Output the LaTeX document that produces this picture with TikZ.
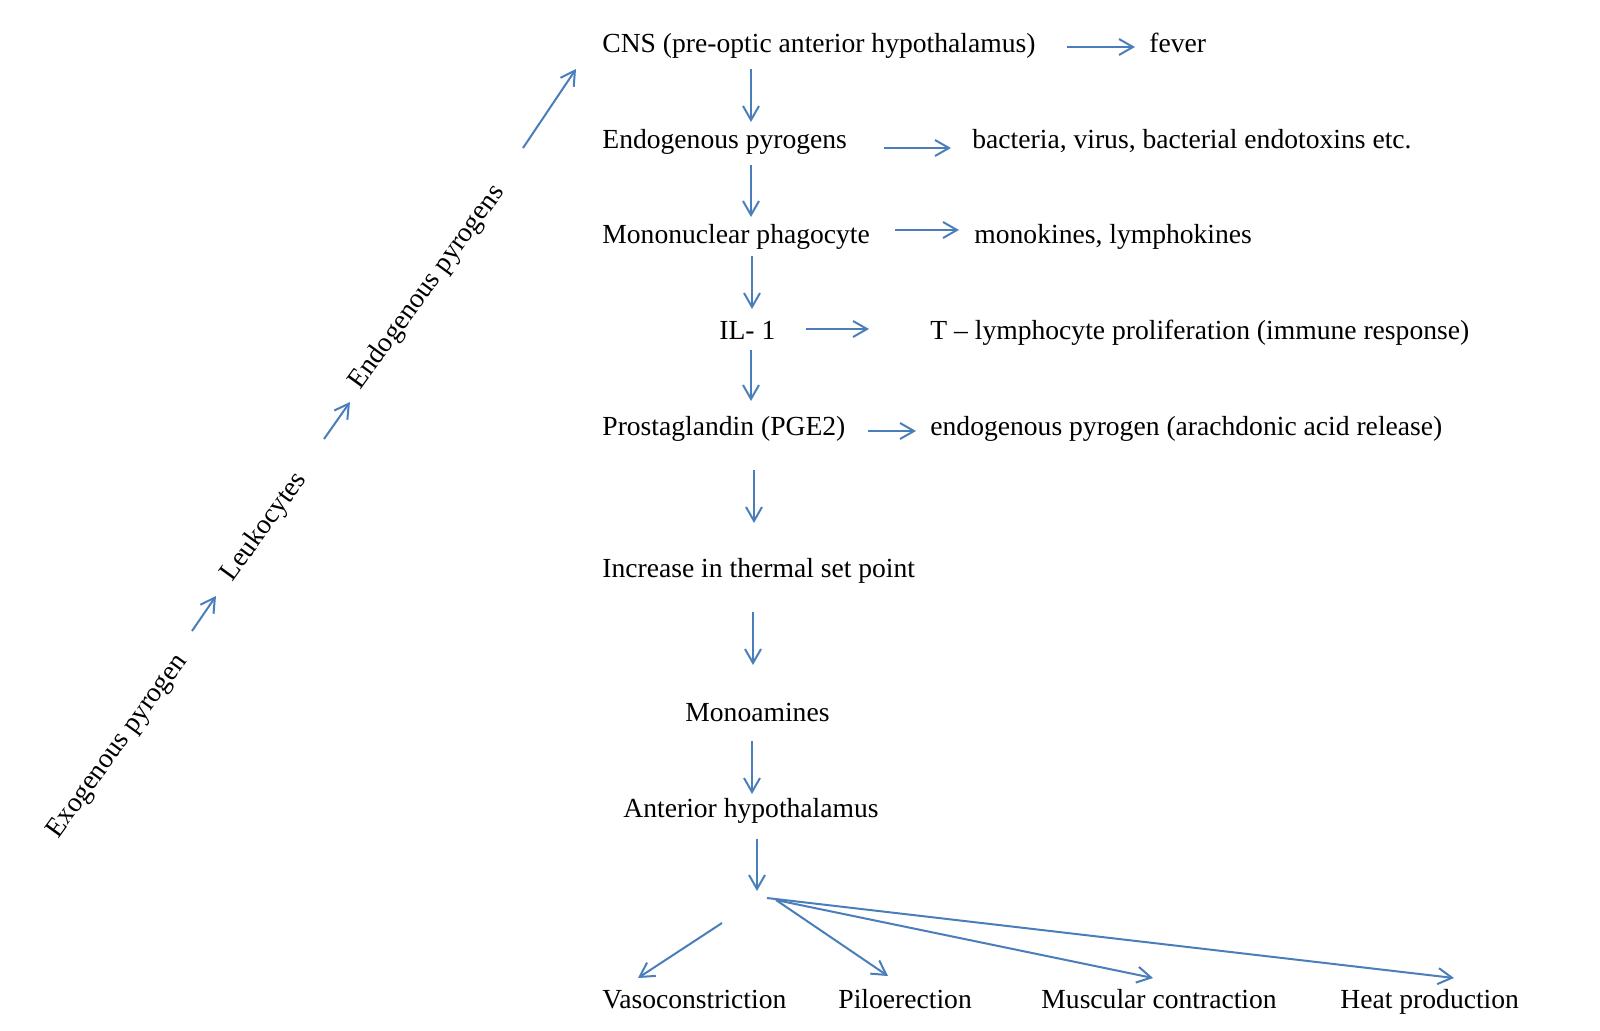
\documentclass[tikz,border=0pt]{standalone}
\usepackage{fontspec}
\setmainfont{Liberation Serif}
\usetikzlibrary{arrows.meta}
\definecolor{arrblue}{RGB}{74,126,187}
\begin{document}
\begin{tikzpicture}[x=0.5pt,y=-0.5pt,
  lbl/.style={anchor=west,inner sep=0pt,font=\fontsize{13.8}{16}\selectfont,text height=10pt,text depth=3pt},
  rlbl/.style={anchor=center,inner sep=0pt,rotate=54,font=\fontsize{13.8}{16}\selectfont,text height=10pt,text depth=3pt},
  arr/.style={draw=arrblue,line width=1pt,-{Straight Barb[length=7pt,width=8pt]}}]
\useasboundingbox (0,0) rectangle (1600,1030);
% text nodes
\node[lbl] (cns) at (602,45) {CNS (pre-optic anterior hypothalamus)};
\node[lbl] (fever) at (1149,45) {fever};
\node[lbl] (endo) at (602,141) {Endogenous pyrogens};
\node[lbl] (bact) at (972,141) {bacteria, virus, bacterial endotoxins etc.};
\node[lbl] (mono) at (602,236) {Mononuclear phagocyte};
\node[lbl] (monok) at (974,236) {monokines, lymphokines};
\node[lbl] (il) at (719,332) {IL- 1};
\node[lbl] (tly) at (930,332) {T – lymphocyte proliferation (immune response)};
\node[lbl] (pg) at (602,428) {Prostaglandin (PGE2)};
\node[lbl] (endp) at (930,428) {endogenous pyrogen (arachdonic acid release)};
\node[lbl] (inc) at (602,570) {Increase in thermal set point};
\node[lbl] (mona) at (685,714) {Monoamines};
\node[lbl] (ant) at (623,810) {Anterior hypothalamus};
\node[lbl] (vaso) at (602,1001) {Vasoconstriction};
\node[lbl] (pilo) at (838,1001) {Piloerection};
\node[lbl] (musc) at (1041,1001) {Muscular contraction};
\node[lbl] (heat) at (1340,1001) {Heat production};
\node[rlbl] (exo) at (117,746) {Exogenous pyrogen};
\node[rlbl] (leu) at (264,527) {Leukocytes};
\node[rlbl] (endr) at (427,287) {Endogenous pyrogens};
% arrow end points
\coordinate (a1s) at (751,69);  \coordinate (a1e) at (751,122);
\coordinate (a2s) at (751,165); \coordinate (a2e) at (751,217);
\coordinate (a3s) at (752,256); \coordinate (a3e) at (752,309);
\coordinate (a4s) at (751,350); \coordinate (a4e) at (751,401);
\coordinate (a5s) at (754,470); \coordinate (a5e) at (754,523);
\coordinate (a6s) at (753,612); \coordinate (a6e) at (753,665);
\coordinate (a7s) at (752,741); \coordinate (a7e) at (752,794);
\coordinate (a8s) at (757,839); \coordinate (a8e) at (757,891);
\coordinate (h1s) at (1067,47); \coordinate (h1e) at (1135,47);
\coordinate (h2s) at (884,148); \coordinate (h2e) at (951,148);
\coordinate (h3s) at (895,230); \coordinate (h3e) at (959,230);
\coordinate (h4s) at (806,329); \coordinate (h4e) at (869,329);
\coordinate (h5s) at (868,431); \coordinate (h5e) at (916,431);
\coordinate (d1s) at (192,631); \coordinate (d1e) at (216,596);
\coordinate (d2s) at (324,439); \coordinate (d2e) at (350,402);
\coordinate (d3s) at (523,148); \coordinate (d3e) at (576,69);
\coordinate (b0s) at (722,923); \coordinate (b0e) at (638,978);
\coordinate (bo1) at (776,900); \coordinate (bo2) at (767,898);
\coordinate (b1e) at (888,976);
\coordinate (b2e) at (1153,978);
\coordinate (b3e) at (1454,978);
% connectors
\foreach \p in {a1,a2,a3,a4,a5,a6,a7,a8,h1,h2,h3,h4,h5,d1,d2,d3,b0}
  \draw[arr] (\p s) -- (\p e);
\draw[arr] (bo1) -- (b1e);
\draw[arr] (bo1) -- (b2e);
\draw[arr] (bo2) -- (b3e);
\end{tikzpicture}
\end{document}
